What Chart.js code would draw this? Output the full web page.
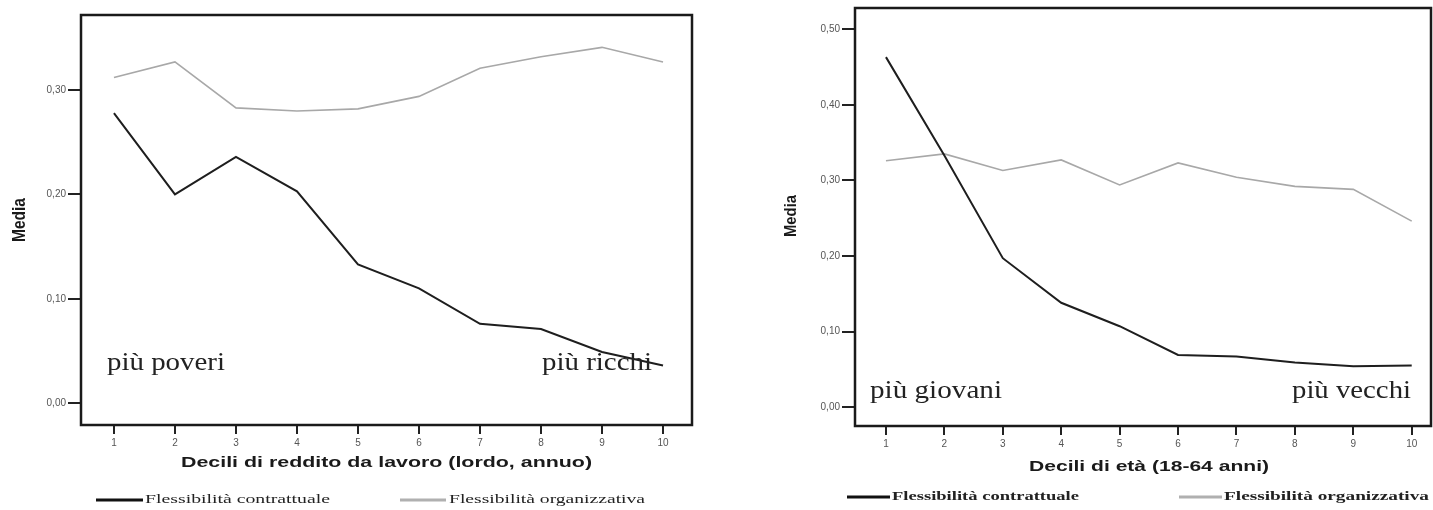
<!DOCTYPE html>
<html>
<head>
<meta charset="utf-8">
<script src="https://cdn.jsdelivr.net/npm/chart.js@4.4.1/dist/chart.umd.min.js"></script>
<style>
  body { margin: 0; background: #fff; }
  #wrap { position: relative; width: 1433px; height: 510px; overflow: hidden; }
  canvas { position: absolute; top: 0; }
</style>
</head>
<body>
<div id="wrap">
  <canvas id="chart1" width="716" height="510" style="left:0"></canvas>
  <canvas id="chart2" width="717" height="510" style="left:716px"></canvas>
</div>
<script>
// categories
const decili = [1, 2, 3, 4, 5, 6, 7, 8, 9, 10];

// tick labels
const yTicksReddito = [0, 0.1, 0.2, 0.3];
const yTicksEta = [0, 0.1, 0.2, 0.3, 0.4, 0.5];

// series
const redditoContrattuale = [0.278, 0.200, 0.236, 0.203, 0.133, 0.110, 0.076, 0.071, 0.049, 0.036];
const redditoOrganizzativa = [0.312, 0.327, 0.283, 0.280, 0.282, 0.294, 0.321, 0.332, 0.341, 0.327];
const etaContrattuale = [0.463, 0.333, 0.197, 0.138, 0.107, 0.069, 0.067, 0.059, 0.054, 0.055];
const etaOrganizzativa = [0.326, 0.335, 0.313, 0.327, 0.294, 0.323, 0.304, 0.292, 0.288, 0.246];

const legendLabels = ["Flessibilità contrattuale", "Flessibilità organizzativa"];

function toPoints(arr) {
    return decili.map(function (d, i) { return { x: d, y: arr[i] }; });
}

// draw text squeezed/stretched to a given width
function fitText(ctx, text, x, y, w, font, color, baseline) {
    ctx.save();
    ctx.font = font;
    ctx.fillStyle = color;
    ctx.textAlign = "left";
    ctx.textBaseline = baseline || "middle";
    var m = ctx.measureText(text).width;
    ctx.translate(x, y);
    ctx.scale(w / m, 1);
    ctx.fillText(text, 0, 0);
    ctx.restore();
}

function makeChart(id, opt) {
    var decor = {
        id: "decor",
        afterDraw: function (chart) {
            var ctx = chart.ctx;
            var a = chart.chartArea;
            ctx.save();
            ctx.strokeStyle = "#1a1a1a";
            ctx.lineWidth = 2.5;
            ctx.strokeRect(a.left, a.top, a.right - a.left, a.bottom - a.top);

            // Media
            ctx.save();
            ctx.translate(opt.media[0], opt.media[1]);
            ctx.rotate(-Math.PI / 2);
            fitText(ctx, "Media", -opt.media[2] / 2, 0, opt.media[2], "bold " + opt.media[3] + "px Arial, 'Liberation Sans'", "#1a1a1a");
            ctx.restore();

            // x title
            fitText(ctx, opt.title, opt.titlePos[0], opt.titlePos[1], opt.titlePos[2],
                "bold 15px Arial, 'Liberation Sans'", "#1a1a1a");

            // legend
            var lg = opt.legend;
            ctx.lineWidth = 3;
            ctx.strokeStyle = "#111";
            ctx.beginPath(); ctx.moveTo(lg.l1[0], lg.y); ctx.lineTo(lg.l1[1], lg.y); ctx.stroke();
            ctx.strokeStyle = "#b0b0b0";
            ctx.beginPath(); ctx.moveTo(lg.l2[0], lg.y); ctx.lineTo(lg.l2[1], lg.y); ctx.stroke();
            fitText(ctx, legendLabels[0], lg.t1[0], lg.y, lg.t1[1], lg.font, "#222");
            fitText(ctx, legendLabels[1], lg.t2[0], lg.y, lg.t2[1], lg.font, "#222");

            // annotations
            opt.notes.forEach(function (n) {
                fitText(ctx, n[0], n[1], n[2], n[3], "26px 'Liberation Serif', 'Times New Roman', serif", "#222", "alphabetic");
            });
            ctx.restore();
        }
    };

    return new Chart(document.getElementById(id), {
        type: "line",
        data: {
            datasets: [
                {
                    label: legendLabels[0],
                    data: toPoints(opt.contr),
                    borderColor: "#1e1e1e",
                    borderWidth: 2,
                    pointRadius: 0,
                    tension: 0
                },
                {
                    label: legendLabels[1],
                    data: toPoints(opt.org),
                    borderColor: "#a8a8a8",
                    borderWidth: 1.6,
                    pointRadius: 0,
                    tension: 0
                }
            ]
        },
        options: {
            responsive: false,
            animation: false,
            layout: { padding: opt.padding },
            plugins: { legend: { display: false }, tooltip: { enabled: false } },
            scales: {
                x: {
                    type: "linear",
                    min: opt.xMin,
                    max: opt.xMax,
                    afterFit: function (s) { s.height = opt.xH; },
                    afterBuildTicks: function (s) { s.ticks = decili.map(function (v) { return { value: v }; }); },
                    grid: { drawOnChartArea: false, tickLength: 9, color: "#222", tickColor: "#222", lineWidth: 2 },
                    border: { display: false },
                    ticks: { font: { size: 10, family: "Arial" }, color: "#555", padding: 3, maxRotation: 0 }
                },
                y: {
                    type: "linear",
                    min: opt.yMin,
                    max: opt.yMax,
                    afterFit: function (s) { s.width = opt.yW; },
                    afterBuildTicks: function (s) { s.ticks = opt.yTicks.map(function (v) { return { value: v }; }); },
                    grid: { drawOnChartArea: false, tickLength: 13, color: "#222", tickColor: "#222", lineWidth: 2 },
                    border: { display: false },
                    ticks: {
                        font: { size: 10, family: "Arial" },
                        color: "#555",
                        padding: 2,
                        callback: function (v) { return v.toFixed(2).replace(".", ","); }
                    }
                }
            }
        },
        plugins: [decor]
    });
}

makeChart("chart1", {
    contr: redditoContrattuale,
    org: redditoOrganizzativa,
    yTicks: yTicksReddito,
    yMin: -0.021, yMax: 0.372,
    xMin: 0.46, xMax: 10.475,
    padding: { top: 15, right: 24, left: 0, bottom: 0 },
    yW: 81, xH: 85,
    media: [20, 220, 44, 18],
    title: "Decili di reddito da lavoro (lordo, annuo)",
    titlePos: [181, 463, 411],
    legend: { y: 500, l1: [96, 143], t1: [145, 185], l2: [400, 446], t2: [449, 196], font: "13px 'Liberation Serif', serif" },
    notes: [["più poveri", 107, 370, 118], ["più ricchi", 542, 370, 110]]
});

makeChart("chart2", {
    contr: etaContrattuale,
    org: etaOrganizzativa,
    yTicks: yTicksEta,
    yMin: -0.025, yMax: 0.528,
    xMin: 0.47, xMax: 10.33,
    padding: { top: 8, right: 2, left: 0, bottom: 0 },
    yW: 139, xH: 84,
    media: [75, 216, 42, 17],
    title: "Decili di età (18-64 anni)",
    titlePos: [313, 467, 240],
    legend: { y: 497, l1: [131, 174], t1: [176, 187], l2: [463, 506], t2: [508, 205], font: "bold 13px 'Liberation Serif', serif" },
    notes: [["più giovani", 154, 398, 132], ["più vecchi", 576, 398, 119]]
});
</script>
</body>
</html>
